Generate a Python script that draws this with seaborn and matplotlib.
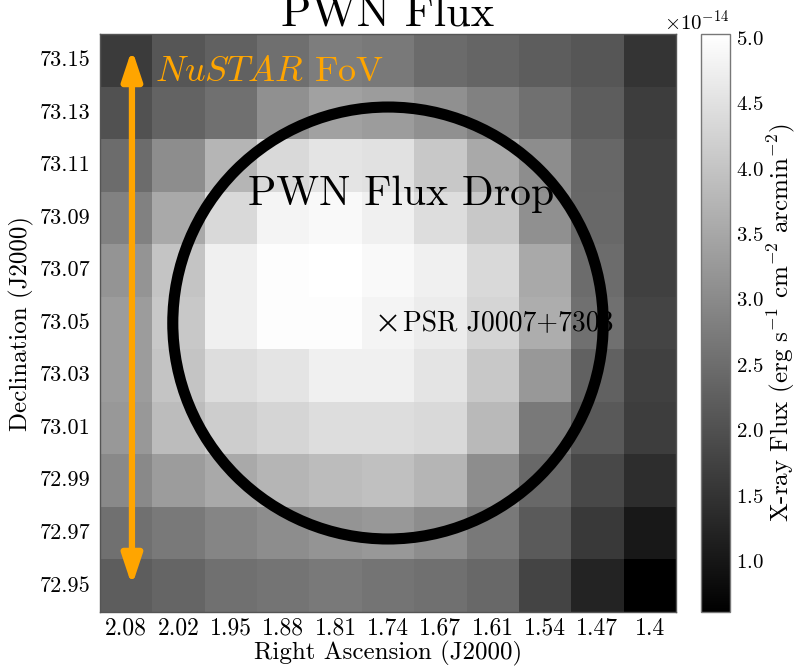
import numpy as np
import matplotlib
matplotlib.use("Agg")
import matplotlib.pyplot as plt
from matplotlib.patches import Circle
from matplotlib.ticker import ScalarFormatter
import seaborn as sns

# Pixel grid labels (degrees)
ra_labels = ["2.08", "2.02", "1.95", "1.88", "1.81", "1.74",
             "1.67", "1.61", "1.54", "1.47", "1.4"]
dec_labels = ["73.15", "73.13", "73.11", "73.09", "73.07", "73.05",
              "73.03", "73.01", "72.99", "72.97", "72.95"]

# X-ray surface flux per pixel, in units of 1e-14 erg/s/cm^2/arcmin^2 (rows: north -> south)
flux_e14 = [
    [1.63, 2.10, 2.29, 2.53, 2.77, 2.70, 2.46, 2.36, 2.22, 2.10, 1.51],
    [2.01, 2.32, 2.56, 3.11, 3.39, 3.32, 3.11, 2.84, 2.56, 2.22, 1.67],
    [2.49, 3.05, 3.74, 4.36, 4.56, 4.50, 4.08, 3.53, 3.05, 2.39, 1.73],
    [2.84, 3.53, 4.36, 4.84, 4.91, 4.77, 4.43, 4.08, 3.11, 2.42, 1.73],
    [3.18, 4.01, 4.77, 4.98, 5.03, 4.91, 4.77, 4.36, 3.53, 2.49, 1.73],
    [3.32, 4.08, 4.77, 4.98, 4.98, 4.84, 4.70, 4.29, 3.60, 2.56, 1.80],
    [3.32, 4.01, 4.43, 4.56, 4.77, 4.77, 4.56, 4.08, 3.25, 2.29, 1.73],
    [3.25, 3.87, 4.15, 4.29, 4.43, 4.43, 4.36, 3.81, 2.70, 2.15, 1.67],
    [2.98, 3.32, 3.53, 3.74, 3.87, 3.94, 3.74, 3.05, 2.42, 1.87, 1.39],
    [2.56, 2.70, 2.91, 3.05, 3.18, 3.25, 3.05, 2.70, 2.18, 1.60, 1.04],
    [2.22, 2.36, 2.56, 2.63, 2.70, 2.63, 2.56, 2.42, 1.80, 1.22, 0.61],
]
flux = np.array(flux_e14) * 1e-14

cbar_ticks_e14 = [1.0, 1.5, 2.0, 2.5, 3.0, 3.5, 4.0, 4.5, 5.0]

# Pulsar position and flux-drop aperture radius (in map pixels)
psr_name = "PSR J0007+7303"
psr_ra = "1.74"
psr_dec = "73.05"
drop_radius = 4.11

sns.set_theme(style="white")
plt.rcParams["font.family"] = ["cmr10", "DejaVu Serif"]
plt.rcParams["mathtext.fontset"] = "cm"
plt.rcParams["axes.formatter.use_mathtext"] = True
plt.rcParams["axes.unicode_minus"] = True
for key in ("text.color", "axes.labelcolor", "xtick.color", "ytick.color"):
    plt.rcParams[key] = "black"

fig = plt.figure(figsize=(8, 6.68), dpi=100)
ax = fig.add_axes([0.125, 0.0838, 0.72, 0.8653])
cax = fig.add_axes([0.876, 0.0838, 0.0365, 0.8653])

sns.heatmap(flux, ax=ax, cbar_ax=cax, cmap="gray",
            xticklabels=ra_labels, yticklabels=dec_labels,
            cbar_kws={"ticks": np.array(cbar_ticks_e14) * 1e-14})

ax.set_xticklabels(ra_labels, rotation=0)
ax.set_yticklabels(dec_labels, rotation=0)
ax.tick_params(axis="both", direction="in", length=7, width=1, color="black",
               bottom=True, left=True)
ax.tick_params(axis="x", labelsize=17, pad=4)
ax.tick_params(axis="y", labelsize=16, pad=7)
for spine in ax.spines.values():
    spine.set_visible(True)
    spine.set_linewidth(1.0)
    spine.set_color("#555555")

ax.set_xlabel("Right Ascension (J2000)", fontsize=18, labelpad=1)
ax.set_ylabel("Declination (J2000)", fontsize=18, labelpad=4)
ax.set_title("PWN Flux", fontsize=32, pad=6)

# Colorbar styling
cbar = ax.collections[0].colorbar
fmt = ScalarFormatter(useMathText=True)
fmt.set_powerlimits((0, 0))
cbar.formatter = fmt
cbar.update_ticks()
cbar.ax.tick_params(direction="in", length=8, width=1, color="black",
                    labelsize=15, right=True, pad=4)
cbar.ax.yaxis.get_offset_text().set_fontsize(15)
cbar.outline.set_edgecolor("#777777")
cbar.outline.set_linewidth(1.0)
cbar.set_label(r"X-ray Flux (erg s$^{-1}$ cm$^{-2}$ arcmin$^{-2}$)",
               fontsize=18, labelpad=1)

# Pulsar and flux-drop aperture
cx = ra_labels.index(psr_ra) + 0.5
cy = dec_labels.index(psr_dec) + 0.5
ax.plot(cx, cy, marker="x", ms=12, mew=1.2, color="black", zorder=3)
ax.text(cx + 0.28, cy + 0.16, psr_name, fontsize=20, ha="left",
        va="baseline", zorder=3)
ax.add_patch(Circle((cx, cy), drop_radius, fill=False, lw=8,
                    edgecolor="black", zorder=4))
ax.text(5.74, 3.26, "PWN Flux Drop", fontsize=30, ha="center",
        va="baseline", zorder=3)

# NuSTAR field-of-view extent
ax.annotate("", xy=(0.61, 0.29), xytext=(0.61, 10.5),
            arrowprops=dict(arrowstyle="<|-|>,head_length=0.9,head_width=0.3",
                            color="orange", lw=4.5, mutation_scale=20,
                            shrinkA=0, shrinkB=0),
            zorder=5)
ax.text(1.05, 0.9, r"$NuSTAR$ FoV", color="orange", fontsize=26,
        ha="left", va="baseline", zorder=5)

fig.savefig("out.png", dpi=100)
